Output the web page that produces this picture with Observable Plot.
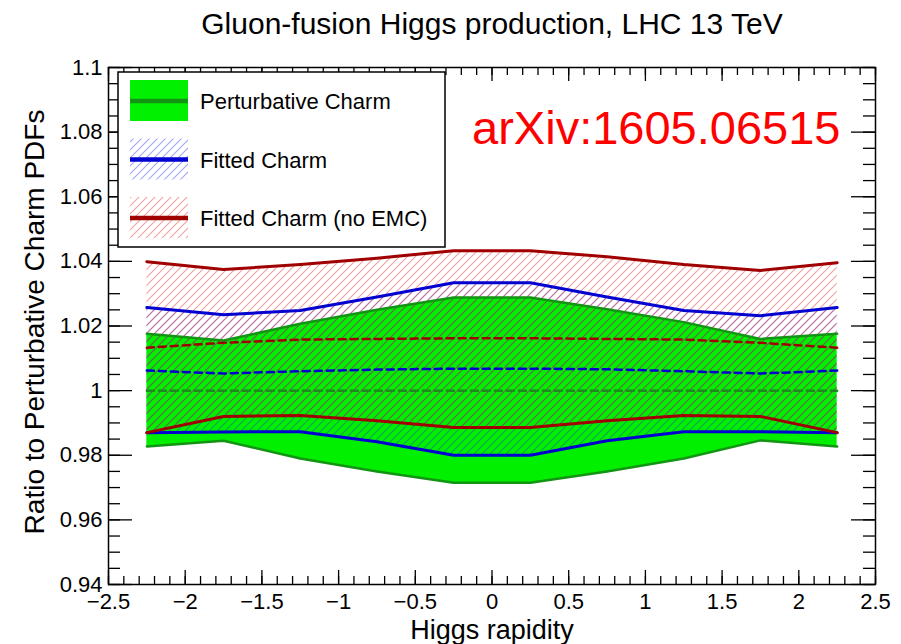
<!DOCTYPE html>
<html><head><meta charset="utf-8">
<script src="https://cdn.jsdelivr.net/npm/d3@7"></script>
<script src="https://cdn.jsdelivr.net/npm/@observablehq/plot@0.6"></script>
<style>
body{margin:0;background:#fff;}
svg{font-family:"Liberation Sans",Arial,Helvetica,sans-serif;}
</style>
</head><body><div id="chart"></div>
<script>
// ---- data ----
const rapidity = [-2.25, -1.75, -1.25, -0.75, -0.25, 0.25, 0.75, 1.25, 1.75, 2.25];

const pertCentral = [1, 1, 1, 1, 1, 1, 1, 1, 1, 1];
const pertUp = [1.0176, 1.0155, 1.0207, 1.0250, 1.0288, 1.0288, 1.0252, 1.0212, 1.0160, 1.0176];
const pertLo = [0.9827, 0.9845, 0.9790, 0.9750, 0.9715, 0.9715, 0.9750, 0.9790, 0.9846, 0.9827];

const fitCentral = [1.0062, 1.0053, 1.0060, 1.0065, 1.0068, 1.0068, 1.0066, 1.0060, 1.0053, 1.0062];
const fitUp = [1.0257, 1.0235, 1.0248, 1.0290, 1.0334, 1.0334, 1.0290, 1.0248, 1.0232, 1.0257];
const fitLo = [0.9870, 0.9872, 0.9873, 0.9842, 0.9800, 0.9800, 0.9845, 0.9873, 0.9873, 0.9870];

const noemcCentral = [1.0133, 1.0148, 1.0158, 1.0160, 1.0162, 1.0162, 1.0160, 1.0158, 1.0148, 1.0133];
const noemcUp = [1.0399, 1.0375, 1.0390, 1.0410, 1.0433, 1.0433, 1.0414, 1.0390, 1.0372, 1.0396];
const noemcLo = [0.9870, 0.9920, 0.9923, 0.9907, 0.9886, 0.9886, 0.9907, 0.9923, 0.9920, 0.9870];

const xTicks = [-2.5, -2, -1.5, -1, -0.5, 0, 0.5, 1, 1.5, 2, 2.5];
const yTicks = [0.94, 0.96, 0.98, 1.0, 1.02, 1.04, 1.06, 1.08, 1.1];
const xMinor = d3.range(-25, 26).map(d => d / 10);
const yMinor = d3.range(188, 221).map(d => d / 200);

const titleText = "Gluon-fusion Higgs production, LHC 13 TeV";
const xLabel = "Higgs rapidity";
const yLabel = "Ratio to Perturbative Charm PDFs";
const stamp = "arXiv:1605.06515";
const legendLabels = ["Perturbative Charm", "Fitted Charm", "Fitted Charm (no EMC)"];

// ---- styling ----
const GREEN_FILL = "#00f000", GREEN_LINE = "#129512", BLUE = "#0000d0", RED = "#a00000";
const W = 901, H = 644, mL = 108, mR = 26, mT = 67, mB = 60;
const fW = W - mL - mR, fH = H - mT - mB;

const rows = rapidity.map((x, i) => ({
  x,
  pertC: pertCentral[i], pertUp: pertUp[i], pertLo: pertLo[i],
  fitC: fitCentral[i], fitUp: fitUp[i], fitLo: fitLo[i],
  nC: noemcCentral[i], nUp: noemcUp[i], nLo: noemcLo[i]
}));

const fmtX = d => d < 0 ? "\u2212" + (-d) : String(d);
const fmtY = d => String(+d.toFixed(2));

const chart = Plot.plot({
  width: W, height: H,
  marginLeft: mL, marginRight: mR, marginTop: mT, marginBottom: mB,
  x: {domain: [-2.5, 2.5]},
  y: {domain: [0.94, 1.1]},
  style: {fontFamily: '"Liberation Sans", Arial, sans-serif', background: "white", overflow: "visible"},
  marks: [
    Plot.areaY(rows, {x: "x", y1: "pertLo", y2: "pertUp", fill: GREEN_FILL}),
    Plot.areaY(rows, {x: "x", y1: "fitLo", y2: "fitUp", fill: "url(#hatchBlue)"}),
    Plot.areaY(rows, {x: "x", y1: "nLo", y2: "nUp", fill: "url(#hatchRed)"}),
    Plot.lineY(rows, {x: "x", y: "pertUp", stroke: GREEN_LINE, strokeWidth: 2.5}),
    Plot.lineY(rows, {x: "x", y: "pertLo", stroke: GREEN_LINE, strokeWidth: 2.5}),
    Plot.lineY(rows, {x: "x", y: "pertC", stroke: "#1c8a1c", strokeWidth: 2.5, strokeDasharray: "7,5"}),
    Plot.lineY(rows, {x: "x", y: "fitC", stroke: BLUE, strokeWidth: 2.5, strokeDasharray: "7,5"}),
    Plot.lineY(rows, {x: "x", y: "nC", stroke: RED, strokeWidth: 2.5, strokeDasharray: "7,5"}),
    Plot.lineY(rows, {x: "x", y: "fitUp", stroke: BLUE, strokeWidth: 3}),
    Plot.lineY(rows, {x: "x", y: "fitLo", stroke: BLUE, strokeWidth: 3}),
    Plot.lineY(rows, {x: "x", y: "nUp", stroke: RED, strokeWidth: 3}),
    Plot.lineY(rows, {x: "x", y: "nLo", stroke: RED, strokeWidth: 3}),
    // inward ticks on all four sides
    Plot.tickX(xTicks, {x: d => d, insetTop: fH - 14, stroke: "black", strokeWidth: 1.3}),
    Plot.tickX(xMinor, {x: d => d, insetTop: fH - 8, stroke: "black", strokeWidth: 1.3}),
    Plot.tickX(xTicks, {x: d => d, insetBottom: fH - 14, stroke: "black", strokeWidth: 1.3}),
    Plot.tickX(xMinor, {x: d => d, insetBottom: fH - 8, stroke: "black", strokeWidth: 1.3}),
    Plot.tickY(yTicks, {y: d => d, insetRight: fW - 24, stroke: "black", strokeWidth: 1.3}),
    Plot.tickY(yMinor, {y: d => d, insetRight: fW - 12, stroke: "black", strokeWidth: 1.3}),
    Plot.tickY(yTicks, {y: d => d, insetLeft: fW - 24, stroke: "black", strokeWidth: 1.3}),
    Plot.tickY(yMinor, {y: d => d, insetLeft: fW - 12, stroke: "black", strokeWidth: 1.3}),
    Plot.frame({stroke: "black", strokeWidth: 1.5}),
    Plot.axisX({ticks: xTicks, tickSize: 0, tickPadding: 9, tickFormat: fmtX, fontSize: 22, label: null, fill: "black"}),
    Plot.axisY({ticks: yTicks, tickSize: 0, tickPadding: 6, tickFormat: fmtY, fontSize: 22, label: null, fill: "black"}),
    Plot.text([titleText], {frameAnchor: "top", text: d => d, dy: -34, lineAnchor: "bottom", fontSize: 30, fill: "black"}),
    Plot.text([stamp], {frameAnchor: "top-right", text: d => d, dx: -35, dy: 76, lineAnchor: "bottom", textAnchor: "end", fontSize: 47, fill: "#ff0000"}),
    Plot.text([xLabel], {frameAnchor: "bottom", text: d => d, dy: 54, lineAnchor: "bottom", fontSize: 27, fill: "black"}),
    Plot.text([yLabel], {frameAnchor: "left", text: d => d, dx: -65, dy: -4, rotate: -90, lineAnchor: "bottom", textAnchor: "middle", fontSize: 28, fill: "black"})
  ]
});

document.getElementById("chart").appendChild(chart);

// ---- hatch patterns & legend ----
const svg = d3.select(chart);
const defs = svg.insert("defs", ":first-child");
function hatch(id, color, op) {
  const p = defs.append("pattern").attr("id", id).attr("patternUnits", "userSpaceOnUse")
    .attr("width", 8).attr("height", 8);
  p.append("path").attr("d", "M-2,2 L2,-2 M0,8 L8,0 M6,10 L10,6")
    .attr("stroke", color).attr("stroke-opacity", op).attr("stroke-width", 1.1).attr("fill", "none");
}
hatch("hatchBlue", "#2030e0", 0.42);
hatch("hatchRed", "#e02020", 0.42);

const lg = svg.append("g").attr("text-anchor", "start");
lg.append("rect").attr("x", 118).attr("y", 72).attr("width", 327).attr("height", 175)
  .attr("fill", "white").attr("stroke", "black").attr("stroke-width", 1.5);
const entries = [
  {fill: GREEN_FILL, line: GREEN_LINE},
  {fill: "url(#hatchBlue)", line: BLUE},
  {fill: "url(#hatchRed)", line: RED}
];
entries.forEach((e, i) => {
  const cy = 101 + i * 58.5;
  lg.append("rect").attr("x", 130).attr("y", cy - 21).attr("width", 58).attr("height", 41).attr("fill", e.fill);
  lg.append("line").attr("x1", 130).attr("x2", 188).attr("y1", cy).attr("y2", cy)
    .attr("stroke", e.line).attr("stroke-width", 4.5);
  lg.append("text").attr("x", 200).attr("y", cy + 8).attr("font-size", 22).attr("fill", "black")
    .attr("text-anchor", "start").text(legendLabels[i]);
});
</script>
</body></html>
